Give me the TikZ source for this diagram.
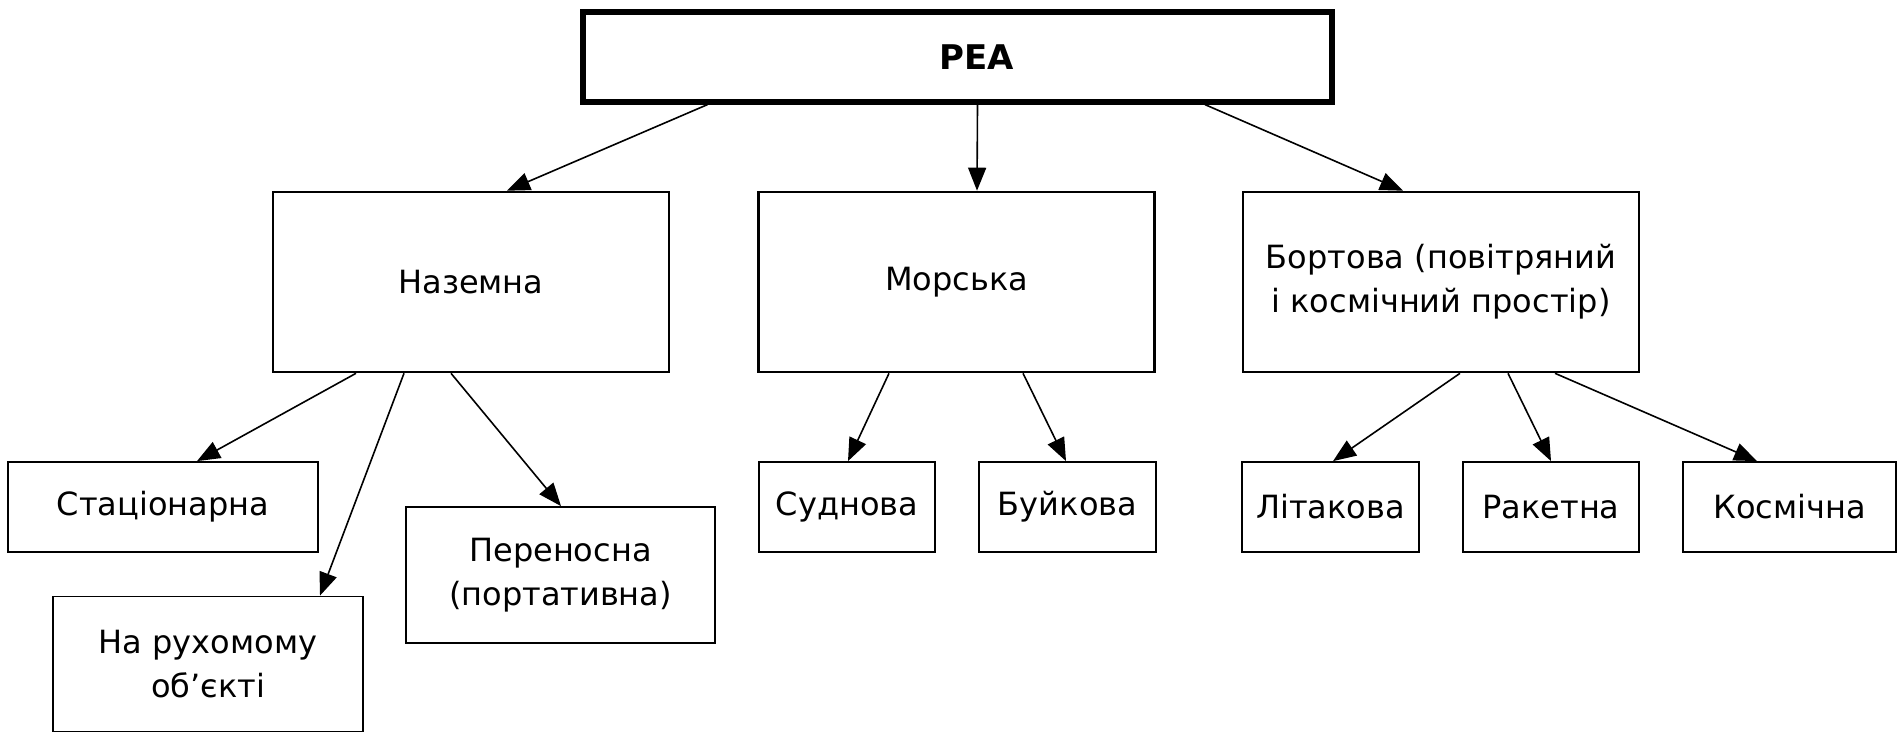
\documentclass[tikz,border=0pt]{standalone}
\usepackage{fontspec}
\setmainfont{DejaVu Sans}
\usetikzlibrary{arrows.meta,calc}
\begin{document}
\begin{tikzpicture}[x=0.5pt,y=-0.5pt,
  every node/.style={font=\fontsize{16}{22}\selectfont, text=black, align=center, inner sep=0pt},
  topbox/.style={draw, line width=2.6pt, minimum width=374.5pt, minimum height=45pt},
  midbox/.style={draw, line width=1.3pt, minimum width=198pt, minimum height=90pt},
  leafbox/.style={draw, line width=0.9pt, minimum height=45pt},
  arr/.style={-{Triangle[length=11.5pt,width=9pt]}, line width=0.8pt}]
\useasboundingbox[fill=white] (0,0) rectangle (1899,733);

\node[topbox] (pea) at (957.5,57) {};
\node[font=\fontsize{17}{22}\selectfont\bfseries] (peatext) at (977,57) {PEA};

\node[midbox] (naz) at (471,282) {Наземна};
\node[midbox] (mor) at (956.5,282) {Морська};
\node[midbox] (bort) at (1441,282) {Бортова (повітряний\\і космічний простір)};

\node[leafbox, minimum width=155pt] (stat) at (163,507) {Стаціонарна};
\node[leafbox, minimum width=155pt, minimum height=67.5pt] (ruh) at (208,664) {На рухомому\\об’єкті};
\node[leafbox, minimum width=154.5pt, minimum height=68pt] (per) at (560.5,575) {Переносна\\(портативна)};

\node[leafbox, minimum width=88pt] (sud) at (847,507) {Суднова};
\node[leafbox, minimum width=88.5pt] (buy) at (1067.5,507) {Буйкова};

\node[leafbox, minimum width=88.5pt] (lit) at (1330.5,507) {Літакова};
\node[leafbox, minimum width=88pt] (rak) at (1551,507) {Ракетна};
\node[leafbox, minimum width=106.5pt] (kos) at (1789.5,507) {Космічна};

\draw[arr] ($(pea.south)+(-250,0)$) -- ($(naz.north)+(36,0)$);
\draw[arr] ($(pea.south)+(20,0)$) -- ($(mor.north)+(20.5,0)$);
\draw[arr] ($(pea.south)+(247.5,0)$) -- ($(bort.north)+(-38,0)$);

\draw[arr] ($(naz.south)+(-115,0)$) -- ($(stat.north)+(34,0)$);
\draw[arr] ($(naz.south)+(-67,0)$) -- ($(ruh.north)+(112,0)$);
\draw[arr] ($(naz.south)+(-20,0)$) -- ($(per.north)+(0.5,0)$);

\draw[arr] ($(mor.south)+(-67.5,0)$) -- ($(sud.north)+(1,0)$);
\draw[arr] ($(mor.south)+(66.5,0)$) -- ($(buy.north)+(-1.5,0)$);

\draw[arr] ($(bort.south)+(19,0)$) -- ($(lit.north)+(2.5,0)$);
\draw[arr] ($(bort.south)+(67,0)$) -- ($(rak.north)+(0,0)$);
\draw[arr] ($(bort.south)+(114,0)$) -- ($(kos.north)+(-32.5,0)$);
\end{tikzpicture}
\end{document}
